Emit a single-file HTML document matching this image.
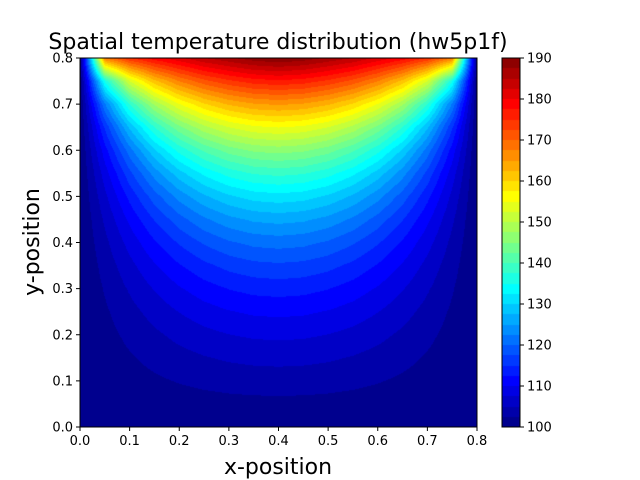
<!DOCTYPE html>
<html><head><meta charset="utf-8"><style>
body{margin:0;background:#fff;width:640px;height:480px;overflow:hidden;font-family:"DejaVu Sans",sans-serif}
#wrap{position:relative;width:640px;height:480px}
canvas{position:absolute}
svg{position:absolute;left:0;top:0;font-family:"DejaVu Sans",sans-serif}
</style></head><body>
<div id="wrap">
<canvas id="field" width="397" height="369" style="left:80px;top:58px"></canvas>
<canvas id="cbar" width="18" height="369" style="left:502px;top:58px"></canvas>
<svg id="ov" width="640" height="480"></svg>
</div>
<script>
// data: top boundary temperature profile at x = 0, 0.05, ..., 0.8 (other edges fixed at 100)
const xNodes = [0,0.05,0.1,0.15,0.2,0.25,0.3,0.35,0.4,0.45,0.5,0.55,0.6,0.65,0.7,0.75,0.8];
const topProfile = [100,168,175,179,182,185,187,189,190,189,187,185,182,179,175,168,100];
const edgeTemp = 100;
const xTicks = [0.0,0.1,0.2,0.3,0.4,0.5,0.6,0.7,0.8];
const yTicks = [0.0,0.1,0.2,0.3,0.4,0.5,0.6,0.7,0.8];
const cbTicks = [100,110,120,130,140,150,160,170,180,190];
const vmin = 100, vmax = 190, levelStep = 2.5;

const PX={l:80,r:477,t:58,b:427}, L=0.8;
const sx=v=>PX.l+(v/L)*(PX.r-PX.l), sy=v=>PX.b-(v/L)*(PX.b-PX.t);
const N=xNodes.length;
let T=[];for(let j=0;j<N;j++){T.push([]);for(let i=0;i<N;i++)T[j].push(edgeTemp);}
for(let i=0;i<N;i++)T[N-1][i]=topProfile[i];
for(let it=0;it<3000;it++){for(let j=1;j<N-1;j++)for(let i=1;i<N-1;i++)T[j][i]=0.25*(T[j-1][i]+T[j+1][i]+T[j][i-1]+T[j][i+1]);}
function val(x,y){const h=L/(N-1);let fi=x/h,fj=y/h;let i=Math.min(N-2,Math.floor(fi)),j=Math.min(N-2,Math.floor(fj));let a=fi-i,b=fj-j;
return T[j][i]*(1-a)*(1-b)+T[j][i+1]*a*(1-b)+T[j+1][i]*(1-a)*b+T[j+1][i+1]*a*b;}
function jet(t){const c=v=>Math.max(0,Math.min(1,v));return [c(1.5-Math.abs(4*t-3)),c(1.5-Math.abs(4*t-2)),c(1.5-Math.abs(4*t-1))].map(v=>Math.round(v*255));}
function bandColor(v){let k=Math.floor((v-vmin)/levelStep);const nb=Math.round((vmax-vmin)/levelStep);k=Math.max(0,Math.min(nb-1,k));return jet((k+0.5)/nb);}
const fc=document.getElementById('field'),fx=fc.getContext('2d'),W=fc.width,H=fc.height,img=fx.createImageData(W,H);
for(let py=0;py<H;py++)for(let px=0;px<W;px++){const x=(px+0.5)/W*L,y=(1-(py+0.5)/H)*L;const c=bandColor(val(x,y));const o=(py*W+px)*4;img.data[o]=c[0];img.data[o+1]=c[1];img.data[o+2]=c[2];img.data[o+3]=255;}
fx.putImageData(img,0,0);
const cc=document.getElementById('cbar'),cx=cc.getContext('2d');
for(let py=0;py<369;py++){const v=vmax-(py+0.5)/369*(vmax-vmin);const c=bandColor(v);cx.fillStyle=`rgb(${c})`;cx.fillRect(0,py,18,1);}
const ns='http://www.w3.org/2000/svg',sv=document.getElementById('ov');
function mk(t,a,txt){const e=document.createElementNS(ns,t);for(const k in a)e.setAttribute(k,a[k]);if(txt!==undefined)e.textContent=txt;sv.appendChild(e);return e;}
let e;
e=mk('rect',{x:PX.l,y:PX.t,width:PX.r-PX.l,height:PX.b-PX.t,fill:'none',stroke:'#000','stroke-width':1});


e=mk('rect',{x:502,y:58,width:18,height:369,fill:'none',stroke:'#000','stroke-width':1});


xTicks.forEach(v=>{const X=sx(v);
 e=mk('line',{x1:X,x2:X,y1:PX.b,y2:PX.b+4,stroke:'#000'});
 
 
 e=mk('text',{x:X,y:PX.b+18,'font-size':13,'text-anchor':'middle'},v.toFixed(1));
 
 });
yTicks.forEach(v=>{const Y=sy(v);
 e=mk('line',{x1:PX.l-4,x2:PX.l,y1:Y,y2:Y,stroke:'#000'});
 
 
 e=mk('text',{x:PX.l-7,y:Y+4.5,'font-size':13,'text-anchor':'end'},v.toFixed(1));
 
 });
cbTicks.forEach(v=>{const Y=427-(v-vmin)/(vmax-vmin)*369;
 e=mk('line',{x1:520,x2:524,y1:Y,y2:Y,stroke:'#000'});
 
 
 e=mk('text',{x:527,y:Y+4.5,'font-size':13},String(v));
 
 });
e=mk('text',{x:278,y:49,'font-size':22,'text-anchor':'middle'},'Spatial temperature distribution (hw5p1f)');


e=mk('text',{x:278,y:474,'font-size':22,'text-anchor':'middle'},'x-position');


e=mk('text',{x:0,y:0,'font-size':22,'text-anchor':'middle',transform:'translate(39,242) rotate(-90)'},'y-position');


</script>
</body></html>
